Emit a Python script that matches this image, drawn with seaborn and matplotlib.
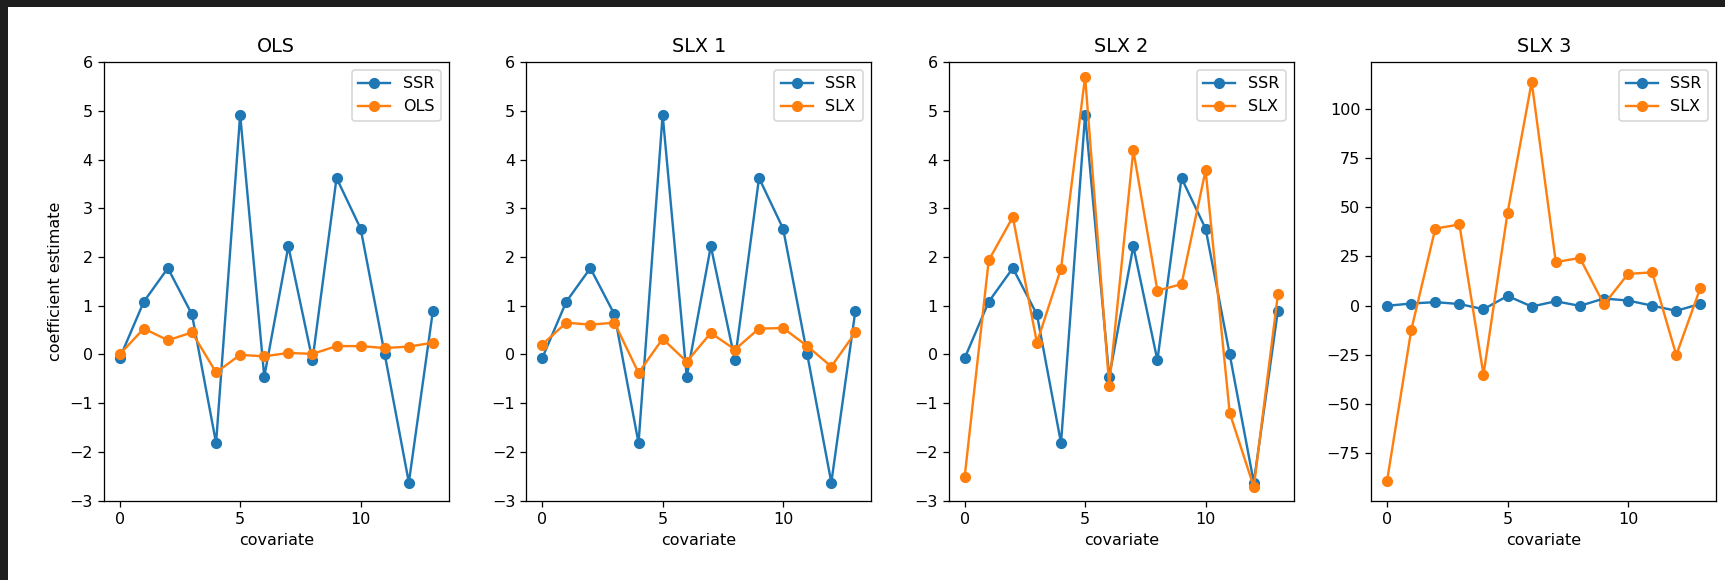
import numpy as np
import pandas as pd
import matplotlib
matplotlib.use("Agg")
import matplotlib.pyplot as plt
import seaborn as sns
from matplotlib.patches import Rectangle

# covariate index and coefficient estimates
covariate = list(range(14))
ssr = [-0.08, 1.08, 1.77, 0.82, -1.82, 4.92, -0.46, 2.22, -0.12, 3.62, 2.58, 0.0, -2.63, 0.90]
ols = [0.0, 0.53, 0.29, 0.45, -0.37, -0.01, -0.04, 0.03, 0.01, 0.17, 0.17, 0.13, 0.16, 0.24]
slx1 = [0.20, 0.65, 0.61, 0.65, -0.38, 0.32, -0.15, 0.44, 0.10, 0.53, 0.54, 0.17, -0.25, 0.45]
slx2 = [-2.52, 1.93, 2.82, 0.24, 1.76, 5.70, -0.64, 4.19, 1.31, 1.44, 3.78, -1.20, -2.72, 1.23]
slx3 = [-88.8, -12.5, 39.1, 41.2, -35.0, 47.2, 113.5, 22.1, 24.2, 0.6, 16.1, 16.9, -25.1, 9.0]

titles = ["OLS", "SLX 1", "SLX 2", "SLX 3"]
model_labels = ["OLS", "SLX", "SLX", "SLX"]
model_values = [ols, slx1, slx2, slx3]

DPI = 115
fig, axes = plt.subplots(1, 4, figsize=(1725 / DPI, 580 / DPI), dpi=DPI)
fig.patch.set_facecolor("#1e1e1e")
# white notebook area inside the dark screenshot border
fig.patches.append(Rectangle((8 / 1725, 0), 1, 1 - 7 / 580, transform=fig.transFigure,
                             facecolor="white", edgecolor="none", zorder=-1))
fig.subplots_adjust(left=0.0603, right=0.9948, bottom=0.137, top=0.893, wspace=0.226)

for i, ax in enumerate(axes):
    df = pd.DataFrame({"covariate": covariate, "SSR": ssr, "model": model_values[i]})
    sns.lineplot(data=df, x="covariate", y="SSR", ax=ax, color="C0", marker="o",
                 markersize=7, markeredgewidth=0, label="SSR")
    sns.lineplot(data=df, x="covariate", y="model", ax=ax, color="C1", marker="o",
                 markersize=7, markeredgewidth=0, label=model_labels[i])
    ax.set_title(titles[i])
    ax.set_xlabel("covariate")
    ax.set_ylabel("")
    if i < 3:
        ax.set_ylim(-3, 6)
        ax.set_yticks(np.arange(-3, 7, 1))
    ax.set_xticks([0, 5, 10])
    ax.legend(loc="upper right")

axes[0].set_ylabel("coefficient estimate")

plt.savefig("out.png", dpi=DPI, facecolor=fig.get_facecolor())
